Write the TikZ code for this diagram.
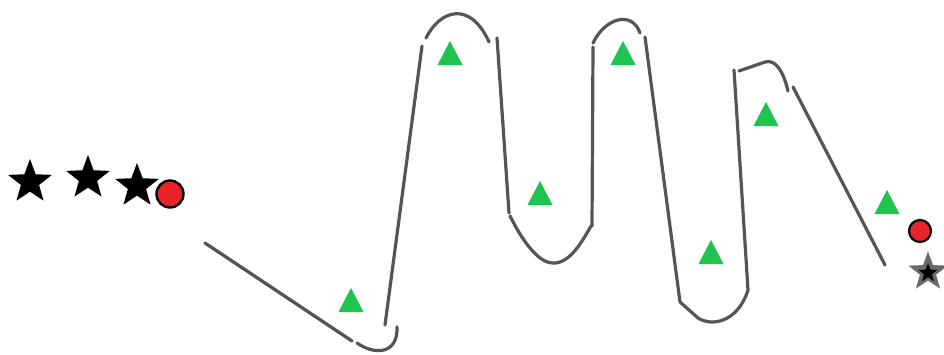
\documentclass[tikz,border=0pt]{standalone}
\usetikzlibrary{shapes.geometric}
\definecolor{wire}{HTML}{555555}
\definecolor{tgreen}{HTML}{1FC44E}
\definecolor{dotred}{HTML}{E8232A}
\definecolor{stargrey}{HTML}{6A6A6A}
\tikzset{
  wirestyle/.style={draw=wire, line width=3.2pt, line cap=round, line join=round},
  bigstar/.style={star, star points=5, star point ratio=2.4, fill=black, draw=none, inner sep=0pt, minimum size=46pt},
  reddot/.style={circle, fill=dotred, draw=black, line width=2.4pt, inner sep=0pt, minimum size=27pt},
  gtri/.style={fill=tgreen, draw=none}
}
\newcommand{\gtriangle}[2]{\fill[gtri] (#1,#2) -- ++(-12.5,24) -- ++(25,0) -- cycle;}
\begin{document}
\begin{tikzpicture}[x=1pt, y=-1pt]
\useasboundingbox (0,0) rectangle (944,354);
\fill[white] (0,0) rectangle (944,354);
\begin{scope}
\clip (0,0) rectangle (944,354);
% stars on the left
\node[bigstar] (s1) at (30,182) {};
\node[bigstar] (s2) at (88,178) {};
\node[bigstar] (s3) at (137,186) {};
\node[reddot] (r1) at (170,194) {};
% right end
\node[reddot, minimum size=22pt, line width=2.2pt] (r2) at (920,231) {};
\node[star, star points=5, star point ratio=2.4, fill=stargrey, inner sep=0pt, minimum size=41pt] (s4) at (928,272) {};
\node[star, star points=5, star point ratio=2.4, fill=black, inner sep=0pt, minimum size=20pt] (s5) at (928,273) {};
% wiggly line pieces
\draw[wirestyle] (205,243) -- (352,341);
\draw[wirestyle] (357,343) .. controls (374,355) and (398,355) .. (397,327);
\draw[wirestyle] (385,325) -- (422,46);
\draw[wirestyle] (426,38) .. controls (440,10) and (470,0) .. (489,42);
\draw[wirestyle] (497,38) -- (509,213);
\draw[wirestyle] (510,216) .. controls (522,240) and (538,263) .. (553,263) .. controls (570,264) and (583,240) .. (591,226);
\draw[wirestyle] (592,226) -- (593,47);
\draw[wirestyle] (593,43) .. controls (605,18) and (632,10) .. (640,33);
\draw[wirestyle] (645,37) -- (680,302);
\draw[wirestyle] (680,302) -- (698,318) .. controls (712,327) and (738,322) .. (748,290);
\draw[wirestyle] (748,290) -- (734,70);
\draw[wirestyle] (739,71) -- (765,62) .. controls (775,59) and (783,70) .. (788,91);
\draw[wirestyle] (793,87) -- (885,265);
% green triangles
\gtriangle{351}{288}
\gtriangle{450}{41}
\gtriangle{540}{181}
\gtriangle{623}{41}
\gtriangle{711}{240}
\gtriangle{766}{102}
\gtriangle{887}{190}
\end{scope}
\end{tikzpicture}
\end{document}
